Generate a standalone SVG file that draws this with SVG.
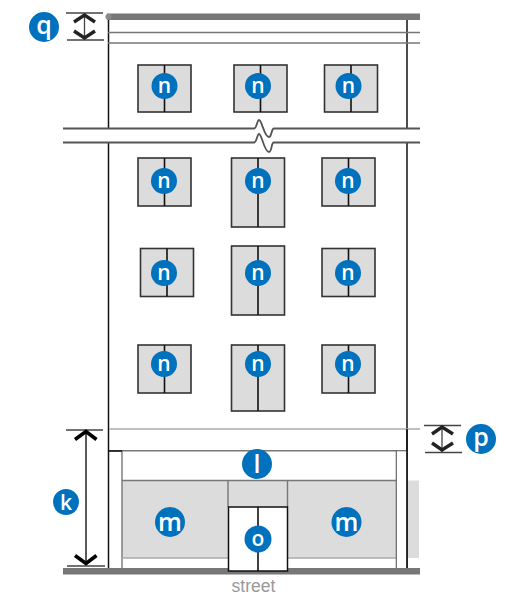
<svg xmlns="http://www.w3.org/2000/svg" width="510" height="596" viewBox="0 0 510 596">
<defs><style>
.w{fill:#dcdcdc;stroke:#333;stroke-width:1.6}
.d{stroke:#111;stroke-width:1.6;fill:none}
.g{stroke:#777;stroke-width:1.4;fill:none}
.br{stroke:#555;stroke-width:1.8;fill:none}
.lg{stroke:#aaa;stroke-width:1.4;fill:none}
.wall{stroke:#111;stroke-width:1.5;fill:none}
.tick{stroke:#444;stroke-width:1.3;fill:none}
.chev{stroke:#222;stroke-width:3.4;fill:none}
.chevk{stroke:#000;stroke-width:3.6;fill:none}
.c{fill:#0071bc}
.t{font-family:"Open Sans","Liberation Sans",sans-serif;font-weight:600;fill:#fff;text-anchor:middle}
.s{font-size:21px}.b{font-size:25px}
</style></defs>
<g id="building">
<rect x="122" y="480.500" width="106" height="77.500" fill="#dcdcdc"/>
<rect x="228" y="481" width="59.500" height="26" fill="#dcdcdc"/>
<rect x="287.500" y="480.500" width="131.500" height="77.500" fill="#dcdcdc"/>
<path class="wall" d="M108.500 16V128M108.500 143V570M407 16V128M407 143V570"/>
<path class="g" d="M108 32.500H420M108 43H420"/>
<path class="br" d="M63 128.500H254C257 128.500 257 120 259 120C262 120 264 137 269 137C272 137 271 128.500 274 128.500H420M63 142.500H254C257 142.500 257 134 259 134C262 134 264 152 269 152C272 152 271 142.500 274 142.500H420"/>
<rect x="107" y="13.500" width="313" height="6.500" fill="#777"/><circle cx="108.500" cy="16.700" r="3" fill="#888"/>
<path class="lg" d="M109 429H420"/>
<path class="g" d="M109 450.700H396M122 480.500H396M228 480.500V507M287.500 480.500V507M122 451V569"/>
<path class="lg" d="M122 558H228M287.500 558H396"/>
<path d="M108.500 451H122" stroke="#111" stroke-width="1.500"/>
<rect x="396.300" y="450.700" width="10.700" height="118" fill="#fff" stroke="#666" stroke-width="1.200"/>
<path d="M407 429V570" class="wall"/>
<rect x="63" y="568" width="357" height="6.500" fill="#777"/>
</g>
<g id="door-o"><rect x="228.500" y="507" width="59" height="64" fill="#fff" stroke="#111" stroke-width="1.500"/><path class="d" d="M258 507V571"/><circle class="c" cx="258" cy="539" r="13.500"/><text class="t s" x="258" y="546">o</text></g>
<g id="win1"><rect class="w" x="138" y="65" width="53" height="47"/><path class="d" d="M164.500 65V112"/><circle class="c" cx="164.500" cy="86" r="13"/><text class="t s" x="164.500" y="93">n</text></g>
<g id="win2"><rect class="w" x="234" y="65" width="53" height="47"/><path class="d" d="M260.500 65V112"/><circle class="c" cx="258" cy="86" r="13"/><text class="t s" x="258" y="93">n</text></g>
<g id="win3"><rect class="w" x="324.500" y="65" width="53" height="47"/><path class="d" d="M351 65V112"/><circle class="c" cx="348.500" cy="86" r="13"/><text class="t s" x="348.500" y="93">n</text></g>
<g id="win4"><rect class="w" x="138" y="158" width="53" height="48"/><path class="d" d="M164.500 158V206"/><circle class="c" cx="164" cy="181" r="13"/><text class="t s" x="164" y="188">n</text></g>
<g id="win5"><rect class="w" x="231.500" y="158" width="53" height="69"/><path class="d" d="M258 158V227"/><circle class="c" cx="258" cy="181" r="13"/><text class="t s" x="258" y="188">n</text></g>
<g id="win6"><rect class="w" x="322" y="158" width="53" height="48"/><path class="d" d="M348.500 158V206"/><circle class="c" cx="348" cy="181" r="13"/><text class="t s" x="348" y="188">n</text></g>
<g id="win7"><rect class="w" x="140.500" y="248.500" width="53" height="48"/><path class="d" d="M167 248.500V296.500"/><circle class="c" cx="164" cy="273" r="13"/><text class="t s" x="164" y="280">n</text></g>
<g id="win8"><rect class="w" x="231.500" y="246" width="53" height="69"/><path class="d" d="M258 246V315"/><circle class="c" cx="258" cy="273" r="13"/><text class="t s" x="258" y="280">n</text></g>
<g id="win9"><rect class="w" x="322" y="248.500" width="53" height="48"/><path class="d" d="M348.500 248.500V296.500"/><circle class="c" cx="348" cy="273" r="13"/><text class="t s" x="348" y="280">n</text></g>
<g id="win10"><rect class="w" x="138" y="345" width="53" height="48"/><path class="d" d="M164.500 345V393"/><circle class="c" cx="164" cy="364" r="13"/><text class="t s" x="164" y="371">n</text></g>
<g id="win11"><rect class="w" x="231.500" y="345" width="53" height="66"/><path class="d" d="M258 345V411"/><circle class="c" cx="258" cy="364" r="13"/><text class="t s" x="258" y="371">n</text></g>
<g id="win12"><rect class="w" x="322" y="345" width="53" height="48"/><path class="d" d="M348.500 345V393"/><circle class="c" cx="348" cy="364" r="13"/><text class="t s" x="348" y="371">n</text></g>
<g id="connectors">
<path class="tick" d="M66 13H103M67 40H104M84.500 14V39"/>
<path class="chev" d="M74 22L84.500 15L95 22M74 31L84.500 38L95 31"/>
<path class="tick" d="M424 425.500H461M425 452.500H462M442 426V452"/>
<path class="chev" d="M432 434L442 427L453 434M432 443L442 450L453 443"/>
<path class="tick" d="M66 430H103M67 566H105"/>
<path d="M86 431V565" stroke="#222" stroke-width="1.500"/>
<path class="chevk" d="M75 439.500L86 431.500L96.500 439.500M75 555.500L86 563.500L96.500 555.500"/>
</g>
<g id="label-q"><circle class="c" cx="44" cy="27" r="15"/><text class="t b" x="44" y="34">q</text></g>
<g id="label-k"><circle class="c" cx="66" cy="502" r="13"/><text class="t s" x="66" y="509.500">k</text></g>
<g id="label-m1"><circle class="c" cx="170" cy="522" r="15"/><text class="t b" x="170" y="530.500">m</text></g>
<g id="label-l"><circle class="c" cx="257" cy="464" r="15"/><text class="t b" x="257" y="473">l</text></g>
<g id="label-m2"><circle class="c" cx="346.500" cy="522" r="15"/><text class="t b" x="346.500" y="530.500">m</text></g>
<g id="label-p"><circle class="c" cx="481" cy="439" r="15"/><text class="t b" x="481" y="446">p</text></g>
<text id="street" x="253.500" y="592" font-family="Liberation Sans,sans-serif" font-size="17.500" fill="#999" text-anchor="middle">street</text>
</svg>
